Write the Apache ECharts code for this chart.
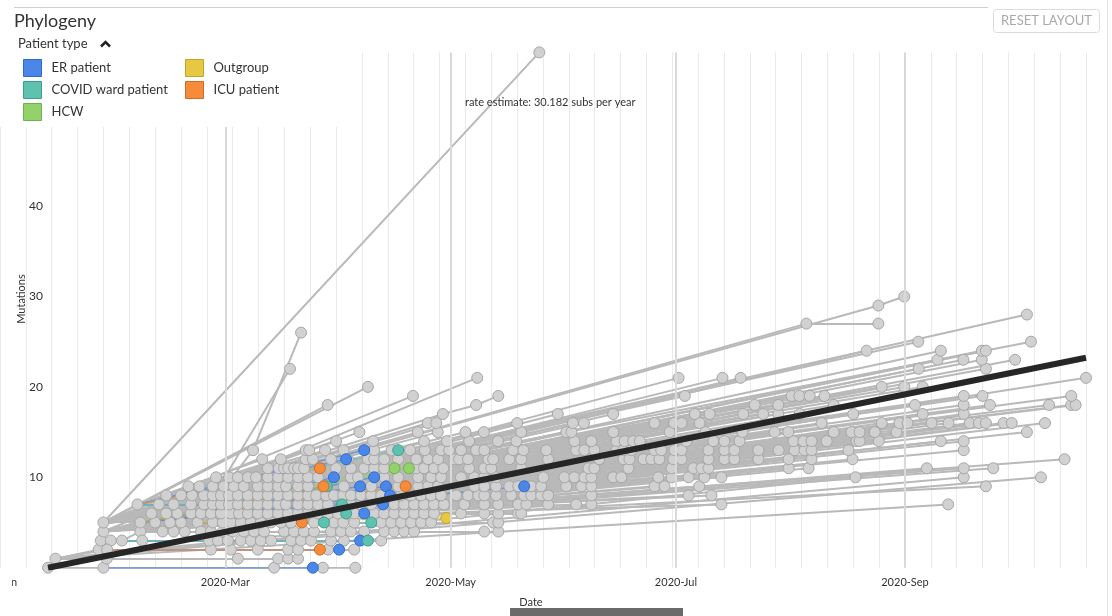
<!DOCTYPE html>
<html>
<head>
<meta charset="utf-8">
<script src="https://cdn.jsdelivr.net/npm/echarts@6/dist/echarts.min.js"></script>
<style>
html,body{margin:0;padding:0;background:#fff;}
#chart{width:1112px;height:616px;}
</style>
</head>
<body>
<div id="chart"></div>
<script>
// ---------------- DATA (days after 2020-01-01, mutations) ----------------
// internal nodes of the tree
const nodeDay = [12, 14, 25.7, 26.3, 27, 27, 29, 32, 37, 37, 36.2, 50.7, 27, 28, 52.5, 53.4, 67.5, 118.9, 127.9, 217.3, 236.8];
const nodeMut = [0, 1, 2, 3, 4, 5, 3, 3, 4, 5, 7, 6, 0, 2, 5, 4, 13, 17, 18, 27, 29];
const nodeParent = [-1, 0, 1, 2, 3, 4, 2, 6, 7, 8, 5, 9, 0, 1, 9, 8, 14, 5, 17, 5, 5];

// grey tips, grouped by mutation count and parent node
const segMut = [0, 1, 2, 3, 4, 4, 5, 5, 6, 6, 7, 7, 7, 8, 8, 8, 9, 9, 9, 10, 10, 10, 10, 11, 11, 11,
  12, 12, 12, 13, 13, 13, 14, 14, 14, 15, 15, 16, 16, 16, 17, 18, 19, 19, 20, 21, 22, 22, 23, 24, 25, 26, 27, 28, 30, 57];
const segParent = [12, 1, 13, 7, 8, 15, 9, 14, 9, 11, 10, 5, 1, 11, 9, 5, 11, 9, 4, 11, 9, 5, 1, 10, 9, 8,
  10, 5, 4, 10, 5, 4, 5, 9, 4, 5, 4, 5, 9, 8, 4, 5, 5, 18, 5, 4, 14, 4, 4, 4, 5, 16, 19, 5, 20, 5];
const segDays = [
  [73.2, 86.4, 95.2],
  [27.9, 63.4, 74.3, 77.0, 79.7],
  [56.1, 61.5, 68.8, 77.0, 79.7, 87.8, 94.9],
  [37.5, 55.6, 58.0, 60.7, 64.2, 66.9, 69.6, 72.4, 77.8, 80.5, 83.2, 88.6, 92.1, 102.2],
  [43, 46, 49, 56.1, 59.3],
  [62.1, 65.0, 67.8, 70.5, 75.9, 78.6, 81.3, 84.0, 88.6, 91.3, 94.0, 97.6, 103.0, 105.7, 108.4, 111.1, 130.1, 133.9],
  [41, 45, 48, 56.6, 59.3, 61.5, 64.2, 66.9, 69.6],
  [72.4, 75.1, 77.8, 84.0, 89.4, 91.9, 94.9, 102.2, 104.9, 107.6, 110.3, 113.0, 115.7, 132.5, 133.9],
  [40, 44, 47],
  [53.4, 56.1, 58.8, 61.5, 63.7, 66.1, 68.8, 71.5, 74.3, 77.0, 79.7, 82.4, 85.1, 87.8, 90.5, 94.9, 100.3, 103.0, 105.7, 108.4, 111.1, 113.8, 116.5, 123.8, 130.1, 133.9, 139.3, 140.1],
  [42, 46, 50.7, 54.2, 56.6, 58.8, 61.0, 63.4, 66.1, 68.8, 71.5, 74.3, 76.4, 79.7, 82.4, 85.1, 87.8, 94.0, 96.7, 99.5],
  [105.7, 108.4, 111.1, 113.8, 116.5, 119.2, 124.7, 130.1, 133.9, 139.3, 141.5, 147.4, 155.0, 159.1, 194.3],
  [255.7],
  [51, 54.2, 56.6, 58.8, 61.0, 63.4, 66.1, 68.8],
  [44, 48, 71.5, 74.3, 77.0, 79.7, 82.4, 84.6, 87.3, 89.4, 91.9, 94.0, 96.7, 99.5, 102.2, 107.6, 110.3, 113.0, 115.7, 118.4],
  [122.5, 125.7, 128.5, 130.1, 133.3, 137.4, 140.9, 142.8, 145.5, 147.4, 159.1, 185.4, 191.6],
  [53, 56.6, 59.6, 62.3, 65.0, 68.8, 71.5, 74.3, 76.4, 79.7],
  [50, 82.4, 92.1, 99.5, 106.8, 112.2, 114.9, 117.6, 127.4, 130.1],
  [133.3, 136.9, 139.3, 142.8, 145.5, 152.3, 156.4, 159.1, 176.2, 178.9, 188.3, 265.9],
  [57.5, 61.0, 63.4, 66.1, 68.3, 71.5, 74.3, 77.0, 79.7, 82.4, 85.1],
  [94.0, 95.9, 103.0, 106.8, 112.2, 115.7, 118.4, 123.8, 127.4, 130.1, 133.3, 146.1],
  [151.8, 154.5, 157.2, 159.1, 165.0, 167.2, 177.2, 180.8, 185.4, 189.7, 194.3],
  [230.6, 259.9, 280.8],
  [71.5, 74.5, 75.9, 77.0, 78.6, 79.7, 81.3, 90.0, 94.0, 97.6],
  [100.3, 103.0, 111.7, 113.8, 116.5, 119.0, 126.0, 130.1, 132.0, 140.1, 158.3, 159.9, 169.1, 180.8, 186.7, 188.9, 190.8],
  [212.5, 217.9, 249.9, 259.9, 267.9],
  [70, 75, 81.8, 83.7, 88.6, 93.2, 98.6, 100.3, 103.0, 106.8],
  [111.7, 114.9, 117.6, 122.0, 123.3, 125.7, 131.2, 132.5, 136.9, 140.1, 147.4, 161.2, 167.8, 169.4, 173.2, 175.3, 177.5],
  [181.3, 183.5, 190.8, 195.1, 197.8, 204.3, 212.5, 218.7, 229.8, 287.2],
  [81.8, 82.7, 87, 92, 100.3, 105, 110, 114, 118.4],
  [120.6, 123.8, 127.9, 130.1, 137.9, 140.7, 146.9, 155.0, 157.2, 159.9, 165.9, 167.8, 169.9, 176.2, 178.0],
  [181.6, 183.5, 190.8, 195.1, 197.8, 204.3, 209.8, 214.1, 216.8, 218.7, 228.7, 259.9],
  [90, 100, 113.8, 120, 126, 133.8, 138.8],
  [154.5, 159.1, 165.9, 168.1, 170.4, 172.2, 184.8, 192.1, 195.1, 199.2, 213.8, 216.5, 218.7],
  [222.8, 230.9, 231.7, 236.9, 253.7, 259.9],
  [96.3, 112.1, 117.5, 125, 130, 140.1],
  [152.3, 153.7, 165, 180.3, 190, 200, 208.7, 212.4, 224.7, 229.5, 231.7, 235.8, 241.7, 277.0],
  [114.8, 117.1, 139.0],
  [154.1, 157.1, 176.2, 181.5, 183.5, 188.4, 221.4],
  [237.7, 242.5, 244.7, 251.2, 255.8, 261.5, 264.0, 265.9, 270.7, 272.9, 281.9],
  [150, 165, 187.1, 191.1, 200.2, 205.6, 209.7, 215.5, 230, 248.8, 259.9],
  [87.7, 203.3, 209.7, 224.7, 246.7, 259.9, 267.0, 283.0, 289.0, 290.2],
  [110.8, 184.4, 213.3, 215.4, 218.2, 222.2, 259.9, 265.0, 289.0],
  [133.9],
  [98.6, 237.7, 243.8, 248.8],
  [128.2, 182.7, 194.6, 199.5, 293.0],
  [77.5],
  [247.7, 265.9],
  [252.8, 259.8, 264.8, 273.8],
  [233.6, 253.7, 264.8, 265.9],
  [247.6, 278.1],
  [80.5],
  [236.8],
  [277.0],
  [243.8],
  [145]
];

// coloured tips
const groupNames = ['ER patient', 'COVID ward patient', 'HCW', 'Outgroup', 'ICU patient'];
const colDay = [83.7, 90.8, 96.5, 89.4, 92.7, 97.6, 100.3, 103.5, 96.5, 104.6, 102.7, 97.6, 140.9,
  87.5, 91.6, 92.7, 86.7, 99.5, 98.6, 106.8,
  105.8, 109.7,
  119.8,
  85.6, 86.6, 80.7, 108.8, 85.6];
const colMut = [0, 2, 3, 10, 12, 13, 10, 9, 9, 8, 7, 6, 9,
  9, 7, 6, 5, 5, 3, 13,
  11, 11,
  5.5,
  11, 9, 5, 9, 2];
const colGroup = [0, 0, 0, 0, 0, 0, 0, 0, 0, 0, 0, 0, 0,
  1, 1, 1, 1, 1, 1, 1,
  2, 2,
  3,
  4, 4, 4, 4, 4];
const colParent = [12, 13, 7, 11, 10, 10, 9, 9, 11, 9, 10, 11, 9,
  11, 10, 11, 14, 14, 7, 10,
  9, 9,
  14,
  10, 11, 14, 9, 13];

const rateEstimate = 30.182;           // subs per year
const regStartDay = 12, regEndDay = 293;
const monthTickDay = [0, 60, 121, 182, 244];
const monthTickLabel = ['2020-Jan', '2020-Mar', '2020-May', '2020-Jul', '2020-Sep'];
const yGridTicks = [10, 20, 30, 40, 50];

// ---------------- STYLE ----------------
const groupColors = ['#4a87e8', '#5fc2b1', '#93d16b', '#e6c843', '#f58b3b'];
const groupBorders = ['#2f6bc9', '#3f9f8f', '#72b04d', '#c2a42a', '#d06c22'];
const FONT = 'Lato, "Noto Sans", sans-serif';

// x value: days since 2019-12-31 so weekly grid lines fall on multiples of 7
const X = d => d + 1;

const allDay = [], allMut = [], allPar = [], allGrp = [];
nodeDay.forEach((d, i) => { allDay.push(d); allMut.push(nodeMut[i]); allPar.push(nodeParent[i]); allGrp.push(-1); });
segDays.forEach((days, s) => days.forEach(d => { allDay.push(d); allMut.push(segMut[s]); allPar.push(segParent[s]); allGrp.push(-1); }));
colDay.forEach((d, i) => { allDay.push(d); allMut.push(colMut[i]); allPar.push(colParent[i]); allGrp.push(colGroup[i]); });

const greyLines = [], greyPts = [];
const colLines = groupNames.map(() => []), colPts = groupNames.map(() => []);
for (let i = 0; i < allDay.length; i++) {
  const p = allPar[i];
  const pt = [X(allDay[i]), allMut[i]];
  if (allGrp[i] < 0) greyPts.push(pt); else colPts[allGrp[i]].push(pt);
  if (p >= 0) {
    const seg = { coords: [[X(allDay[p]), allMut[p]], pt] };
    if (allGrp[i] < 0) greyLines.push(seg); else colLines[allGrp[i]].push(seg);
  }
}

const slopePerDay = rateEstimate / 365.25;
const regData = [[X(regStartDay), 0], [X(regEndDay), slopePerDay * (regEndDay - regStartDay)]];

const series = [];
// helper series: month grid lines + labels, horizontal grid lines
series.push({
  type: 'scatter', data: [], silent: true, z: 0,
  markLine: {
    silent: true, symbol: 'none', animation: false,
    data: monthTickDay.map((d, i) => ({
      xAxis: X(d),
      lineStyle: { color: i === 0 ? 'rgba(0,0,0,0)' : '#d9d9d9', width: 2, type: 'solid' },
      label: { show: true, position: 'start', formatter: monthTickLabel[i], color: '#333', fontSize: 11,
        fontFamily: FONT, distance: 9, offset: i === 0 ? [-9, 0] : [0, 0] }
    })).concat(yGridTicks.map(v => [
      { coord: [X(18), v], lineStyle: { color: '#dcdcdc', width: 2, type: 'solid' }, label: { show: false } },
      { coord: [X(293.2), v] }
    ]))
  }
});
series.push({
  type: 'lines', coordinateSystem: 'cartesian2d', silent: true, z: 1,
  lineStyle: { color: '#b9b9b9', width: 2, opacity: 1 }, data: greyLines
});
groupNames.forEach((g, k) => series.push({
  type: 'lines', coordinateSystem: 'cartesian2d', silent: true, z: 2,
  lineStyle: { color: groupColors[k], width: 1.5, opacity: 0.7 }, data: colLines[k]
}));
series.push({
  type: 'scatter', name: 'other', symbolSize: 11, z: 3, silent: true,
  itemStyle: { color: '#d1d1d1', borderColor: '#a6a6a6', borderWidth: 1, opacity: 1 },
  data: greyPts
});
groupNames.forEach((g, k) => series.push({
  type: 'scatter', name: g, symbolSize: 11, z: 4,
  itemStyle: { color: groupColors[k], borderColor: groupBorders[k], borderWidth: 1, opacity: 1 },
  data: colPts[k]
}));
series.push({
  type: 'line', name: 'regression', data: regData, symbol: 'none', z: 5, silent: true,
  lineStyle: { color: '#262626', width: 6 }
});

const legendBase = {
  orient: 'vertical', icon: 'rect', itemWidth: 18, itemHeight: 17, itemGap: 4, z: 101, padding: 0,
  top: 59, textStyle: { fontSize: 13, color: '#333', fontFamily: FONT, padding: [0, 0, 0, 5] },
  itemStyle: { borderWidth: 1 }
};

const chart = echarts.init(document.getElementById('chart'), null, { renderer: 'canvas' });
chart.setOption({
  animation: false,
  backgroundColor: '#fff',
  grid: { left: 0, right: 26, top: 52.4, bottom: 48.3, containLabel: false },
  xAxis: {
    type: 'value', min: 0, max: 294, interval: 7,
    axisLine: { show: false }, axisTick: { show: false }, axisLabel: { show: false },
    splitLine: { show: true, lineStyle: { color: '#eaeaea', width: 1 } }
  },
  yAxis: {
    type: 'value', min: 0, max: 57, interval: 10,
    axisLine: { show: false }, axisTick: { show: false }, splitLine: { show: false },
    axisLabel: { inside: true, margin: 43, align: 'right', color: '#333', fontSize: 12, fontFamily: FONT,
      formatter: v => (v > 0 && v % 10 === 0) ? String(v) : '' }
  },
  legend: [
    Object.assign({}, legendBase, { left: 23, data: groupNames.slice(0, 3) }),
    Object.assign({}, legendBase, { left: 185, data: groupNames.slice(3) })
  ],
  graphic: [
    { type: 'rect', z: 100, silent: true, shape: { x: 0, y: 0, width: 337, height: 127 }, style: { fill: '#fff' } },
    { type: 'rect', z: 100, silent: true, shape: { x: 0, y: 574, width: 12, height: 18 }, style: { fill: '#fff' } },
    { type: 'line', z: 100, silent: true, shape: { x1: 14, y1: 7.5, x2: 988, y2: 7.5 }, style: { stroke: '#cfcfcf', lineWidth: 1 } },
    { type: 'line', z: 100, silent: true, shape: { x1: 1107.5, y1: 0, x2: 1107.5, y2: 616 }, style: { stroke: '#e3e3e3', lineWidth: 1 } },
    { type: 'text', z: 101, silent: true, x: 14, y: 21, style: { text: 'Phylogeny', fill: '#333', font: '18px ' + FONT, textVerticalAlign: 'middle' } },
    { type: 'text', z: 101, silent: true, x: 18, y: 44, style: { text: 'Patient type', fill: '#333', font: '13px ' + FONT, textVerticalAlign: 'middle' } },
    { type: 'polyline', z: 101, silent: true, shape: { points: [[101, 46.5], [105.5, 42], [110, 46.5]] }, style: { stroke: '#222', lineWidth: 2.5, fill: null } },
    { type: 'rect', z: 100, silent: true, shape: { x: 993.5, y: 9.5, width: 106, height: 23, r: 3 }, style: { fill: '#fff', stroke: '#dcdcdc', lineWidth: 1 } },
    { type: 'text', z: 101, silent: true, x: 1046.5, y: 21, style: { text: 'RESET LAYOUT', fill: '#a9a9a9', font: '13px ' + FONT, textAlign: 'center', textVerticalAlign: 'middle' } },
    { type: 'text', z: 101, silent: true, x: 465, y: 102, style: { text: 'rate estimate: 30.182 subs per year', fill: '#333', font: '11px ' + FONT, textVerticalAlign: 'middle' } },
    { type: 'text', z: 101, silent: true, x: 21, y: 299, rotation: Math.PI / 2, style: { text: 'Mutations', fill: '#333', font: '11px ' + FONT, textAlign: 'center', textVerticalAlign: 'middle' } },
    { type: 'text', z: 101, silent: true, x: 531, y: 602, style: { text: 'Date', fill: '#333', font: '11px ' + FONT, textAlign: 'center', textVerticalAlign: 'middle' } },
    { type: 'rect', z: 100, silent: true, shape: { x: 510, y: 608, width: 173, height: 8 }, style: { fill: '#6a6a6a' } }
  ],
  series: series
});
</script>
</body>
</html>
